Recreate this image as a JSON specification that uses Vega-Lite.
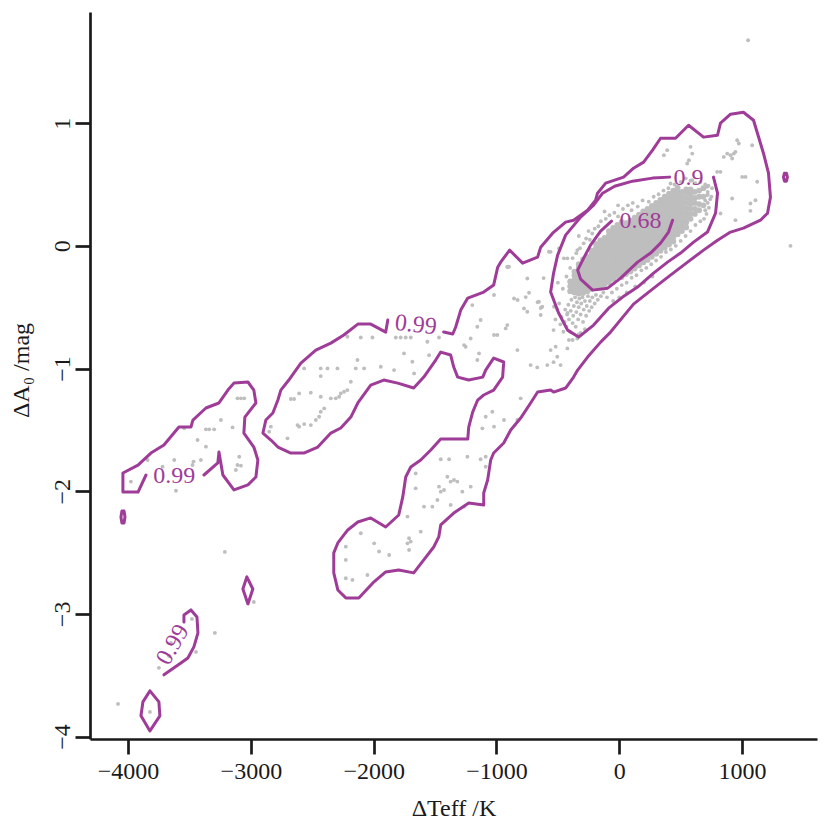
{
"$schema":"https://vega.github.io/schema/vega-lite/v6.json",
"autosize":"none",
"width":727,"height":727,
"padding":{"left":90,"top":12,"right":13,"bottom":91},
"background":"white",
"config":{"font":"Liberation Serif","view":{"stroke":null},
"axis":{"grid":false,"domainColor":"#1a1a1a","domainWidth":2.7,"tickColor":"#1a1a1a","tickWidth":2.7,"tickSize":15,"labelFont":"Liberation Serif","labelFontSize":24,"labelColor":"#1a1a1a","titleFont":"Liberation Serif","titleFontSize":24,"titleFontWeight":"normal","titleColor":"#1a1a1a","labelFlush":false,"labelOverlap":false}},
"datasets":{
"cont":[
{"g":"a","i":1,"x":-1430,"y":-0.703},{"g":"a","i":2,"x":-1356,"y":-0.719},{"g":"a","i":3,"x":-1332,"y":-0.662},{"g":"a","i":4,"x":-1291,"y":-0.524},{"g":"a","i":5,"x":-1234,"y":-0.426},{"g":"a","i":6,"x":-1104,"y":-0.377},{"g":"a","i":7,"x":-1023,"y":-0.320},{"g":"a","i":8,"x":-990,"y":-0.174},{"g":"a","i":9,"x":-966,"y":-0.133},{"g":"a","i":10,"x":-893,"y":-0.035},
{"g":"a","i":11,"x":-787,"y":-0.141},{"g":"a","i":12,"x":-665,"y":-0.092},{"g":"a","i":13,"x":-640,"y":-0.011},{"g":"a","i":14,"x":-543,"y":0.103},{"g":"a","i":15,"x":-437,"y":0.193},{"g":"a","i":16,"x":-372,"y":0.209},{"g":"a","i":17,"x":-258,"y":0.291},{"g":"a","i":18,"x":-193,"y":0.372},{"g":"a","i":19,"x":-177,"y":0.429},{"g":"a","i":20,"x":-111,"y":0.511},
{"g":"a","i":21,"x":35,"y":0.560},{"g":"a","i":22,"x":116,"y":0.633},{"g":"a","i":23,"x":198,"y":0.682},{"g":"a","i":24,"x":271,"y":0.780},{"g":"a","i":25,"x":336,"y":0.877},{"g":"a","i":26,"x":458,"y":0.877},{"g":"a","i":27,"x":564,"y":0.983},{"g":"a","i":28,"x":686,"y":0.886},{"g":"a","i":29,"x":800,"y":0.902},{"g":"a","i":30,"x":824,"y":1.000},
{"g":"a","i":31,"x":906,"y":1.073},{"g":"a","i":32,"x":1011,"y":1.089},{"g":"a","i":33,"x":1093,"y":1.024},{"g":"a","i":34,"x":1125,"y":0.918},{"g":"a","i":35,"x":1174,"y":0.755},{"g":"a","i":36,"x":1215,"y":0.592},{"g":"a","i":37,"x":1231,"y":0.397},{"g":"a","i":38,"x":1207,"y":0.266},{"g":"a","i":39,"x":1150,"y":0.209},{"g":"a","i":40,"x":1011,"y":0.144},
{"g":"a","i":41,"x":906,"y":0.112},{"g":"a","i":42,"x":800,"y":0.046},{"g":"a","i":43,"x":686,"y":-0.035},{"g":"a","i":44,"x":556,"y":-0.133},{"g":"a","i":45,"x":417,"y":-0.239},{"g":"a","i":46,"x":312,"y":-0.320},{"g":"a","i":47,"x":198,"y":-0.410},{"g":"a","i":48,"x":116,"y":-0.475},{"g":"a","i":49,"x":35,"y":-0.573},{"g":"a","i":50,"x":-71,"y":-0.703},
{"g":"a","i":51,"x":-152,"y":-0.785},{"g":"a","i":52,"x":-258,"y":-0.907},{"g":"a","i":53,"x":-339,"y":-1.013},{"g":"a","i":54,"x":-372,"y":-1.070},{"g":"a","i":55,"x":-437,"y":-1.159},{"g":"a","i":56,"x":-535,"y":-1.192},{"g":"a","i":57,"x":-559,"y":-1.176},{"g":"a","i":58,"x":-665,"y":-1.192},{"g":"a","i":59,"x":-722,"y":-1.281},{"g":"a","i":60,"x":-803,"y":-1.404},
{"g":"a","i":61,"x":-884,"y":-1.501},{"g":"a","i":62,"x":-941,"y":-1.607},{"g":"a","i":63,"x":-1023,"y":-1.689},{"g":"a","i":64,"x":-1047,"y":-1.746},{"g":"a","i":65,"x":-1072,"y":-1.909},{"g":"a","i":66,"x":-1104,"y":-2.015},{"g":"a","i":67,"x":-1104,"y":-2.112},{"g":"a","i":68,"x":-1226,"y":-2.096},{"g":"a","i":69,"x":-1348,"y":-2.178},{"g":"a","i":70,"x":-1454,"y":-2.275},
{"g":"a","i":71,"x":-1470,"y":-2.373},{"g":"a","i":72,"x":-1511,"y":-2.455},{"g":"a","i":73,"x":-1592,"y":-2.560},{"g":"a","i":74,"x":-1674,"y":-2.666},{"g":"a","i":75,"x":-1796,"y":-2.642},{"g":"a","i":76,"x":-1902,"y":-2.658},{"g":"a","i":77,"x":-2007,"y":-2.748},{"g":"a","i":78,"x":-2121,"y":-2.870},{"g":"a","i":79,"x":-2227,"y":-2.870},{"g":"a","i":80,"x":-2292,"y":-2.805},
{"g":"a","i":81,"x":-2325,"y":-2.666},{"g":"a","i":82,"x":-2325,"y":-2.503},{"g":"a","i":83,"x":-2292,"y":-2.422},{"g":"a","i":84,"x":-2211,"y":-2.316},{"g":"a","i":85,"x":-2129,"y":-2.251},{"g":"a","i":86,"x":-2024,"y":-2.218},{"g":"a","i":87,"x":-1902,"y":-2.292},{"g":"a","i":88,"x":-1796,"y":-2.194},{"g":"a","i":89,"x":-1763,"y":-2.047},{"g":"a","i":90,"x":-1739,"y":-1.884},
{"g":"a","i":91,"x":-1698,"y":-1.803},{"g":"a","i":92,"x":-1617,"y":-1.746},{"g":"a","i":93,"x":-1535,"y":-1.664},{"g":"a","i":94,"x":-1454,"y":-1.575},{"g":"a","i":95,"x":-1234,"y":-1.575},{"g":"a","i":96,"x":-1226,"y":-1.477},{"g":"a","i":97,"x":-1194,"y":-1.355},{"g":"a","i":98,"x":-1153,"y":-1.257},{"g":"a","i":99,"x":-1104,"y":-1.216},{"g":"a","i":100,"x":-1023,"y":-1.176},
{"g":"a","i":101,"x":-950,"y":-1.070},{"g":"a","i":102,"x":-941,"y":-0.947},{"g":"a","i":103,"x":-1023,"y":-0.915},{"g":"a","i":104,"x":-1088,"y":-1.013},{"g":"a","i":105,"x":-1112,"y":-1.070},{"g":"a","i":106,"x":-1226,"y":-1.094},{"g":"a","i":107,"x":-1316,"y":-1.070},{"g":"a","i":108,"x":-1348,"y":-0.988},{"g":"a","i":109,"x":-1373,"y":-0.890},{"g":"a","i":110,"x":-1454,"y":-0.866},
{"g":"a","i":111,"x":-1495,"y":-0.931},{"g":"a","i":112,"x":-1592,"y":-1.070},{"g":"a","i":113,"x":-1674,"y":-1.159},{"g":"a","i":114,"x":-1804,"y":-1.119},{"g":"a","i":115,"x":-1918,"y":-1.094},{"g":"a","i":116,"x":-2024,"y":-1.135},{"g":"a","i":117,"x":-2129,"y":-1.281},{"g":"a","i":118,"x":-2186,"y":-1.396},{"g":"a","i":119,"x":-2268,"y":-1.485},{"g":"a","i":120,"x":-2349,"y":-1.526},
{"g":"a","i":121,"x":-2455,"y":-1.640},{"g":"a","i":122,"x":-2569,"y":-1.689},{"g":"a","i":123,"x":-2675,"y":-1.689},{"g":"a","i":124,"x":-2780,"y":-1.640},{"g":"a","i":125,"x":-2837,"y":-1.583},{"g":"a","i":126,"x":-2902,"y":-1.526},{"g":"a","i":127,"x":-2878,"y":-1.420},{"g":"a","i":128,"x":-2821,"y":-1.363},{"g":"a","i":129,"x":-2780,"y":-1.257},{"g":"a","i":130,"x":-2756,"y":-1.176},
{"g":"a","i":131,"x":-2691,"y":-1.094},{"g":"a","i":132,"x":-2593,"y":-0.956},{"g":"a","i":133,"x":-2471,"y":-0.850},{"g":"a","i":134,"x":-2349,"y":-0.793},{"g":"a","i":135,"x":-2243,"y":-0.727},{"g":"a","i":136,"x":-2129,"y":-0.638},{"g":"a","i":137,"x":-2024,"y":-0.638},{"g":"a","i":138,"x":-1902,"y":-0.703},{"g":"a","i":139,"x":-1885,"y":-0.605},
{"g":"b","i":1,"x":767,"y":0.560},{"g":"b","i":2,"x":800,"y":0.429},{"g":"b","i":3,"x":784,"y":0.266},{"g":"b","i":4,"x":718,"y":0.112},{"g":"b","i":5,"x":605,"y":0.030},{"g":"b","i":6,"x":499,"y":-0.059},{"g":"b","i":7,"x":393,"y":-0.133},{"g":"b","i":8,"x":279,"y":-0.222},{"g":"b","i":9,"x":149,"y":-0.336},{"g":"b","i":10,"x":27,"y":-0.418},{"g":"b","i":11,"x":-87,"y":-0.508},{"g":"b","i":12,"x":-209,"y":-0.646},{"g":"b","i":13,"x":-331,"y":-0.744},{"g":"b","i":14,"x":-421,"y":-0.687},{"g":"b","i":15,"x":-494,"y":-0.548},{"g":"b","i":16,"x":-559,"y":-0.377},{"g":"b","i":17,"x":-535,"y":-0.222},{"g":"b","i":18,"x":-502,"y":-0.076},{"g":"b","i":19,"x":-437,"y":0.087},{"g":"b","i":20,"x":-315,"y":0.234},{"g":"b","i":21,"x":-209,"y":0.332},{"g":"b","i":22,"x":-136,"y":0.429},{"g":"b","i":23,"x":-38,"y":0.486},{"g":"b","i":24,"x":108,"y":0.527},{"g":"b","i":25,"x":271,"y":0.552},{"g":"b","i":26,"x":409,"y":0.560},
{"g":"c","i":1,"x":-63,"y":0.201},{"g":"c","i":2,"x":-152,"y":0.120},{"g":"c","i":3,"x":-234,"y":0.006},{"g":"c","i":4,"x":-290,"y":-0.100},{"g":"c","i":5,"x":-339,"y":-0.198},{"g":"c","i":6,"x":-315,"y":-0.271},{"g":"c","i":7,"x":-217,"y":-0.361},{"g":"c","i":8,"x":-95,"y":-0.345},{"g":"c","i":9,"x":11,"y":-0.263},{"g":"c","i":10,"x":149,"y":-0.133},{"g":"c","i":11,"x":255,"y":-0.059},{"g":"c","i":12,"x":336,"y":0.022},{"g":"c","i":13,"x":401,"y":0.112},{"g":"c","i":14,"x":434,"y":0.209},
{"g":"d","i":1,"x":-3382,"y":-1.868},{"g":"d","i":2,"x":-3269,"y":-1.770},{"g":"d","i":3,"x":-3260,"y":-1.681},{"g":"d","i":4,"x":-3228,"y":-1.868},{"g":"d","i":5,"x":-3138,"y":-1.990},{"g":"d","i":6,"x":-3024,"y":-1.949},{"g":"d","i":7,"x":-2959,"y":-1.884},{"g":"d","i":8,"x":-2943,"y":-1.746},{"g":"d","i":9,"x":-2976,"y":-1.640},{"g":"d","i":10,"x":-3057,"y":-1.526},{"g":"d","i":11,"x":-3049,"y":-1.396},{"g":"d","i":12,"x":-2959,"y":-1.281},{"g":"d","i":13,"x":-2976,"y":-1.176},{"g":"d","i":14,"x":-3024,"y":-1.110},{"g":"d","i":15,"x":-3138,"y":-1.119},{"g":"d","i":16,"x":-3187,"y":-1.176},{"g":"d","i":17,"x":-3260,"y":-1.281},{"g":"d","i":18,"x":-3366,"y":-1.322},{"g":"d","i":19,"x":-3472,"y":-1.420},{"g":"d","i":20,"x":-3488,"y":-1.477},{"g":"d","i":21,"x":-3586,"y":-1.477},{"g":"d","i":22,"x":-3708,"y":-1.624},{"g":"d","i":23,"x":-3814,"y":-1.689},{"g":"d","i":24,"x":-3919,"y":-1.787},{"g":"d","i":25,"x":-4042,"y":-1.852},{"g":"d","i":26,"x":-4042,"y":-2.007},{"g":"d","i":27,"x":-3919,"y":-2.007},{"g":"d","i":28,"x":-3854,"y":-1.868},
{"g":"e","i":1,"x":-4050,"y":-2.161},{"g":"e","i":2,"x":-4033,"y":-2.161},{"g":"e","i":3,"x":-4025,"y":-2.210},{"g":"e","i":4,"x":-4033,"y":-2.259},{"g":"e","i":5,"x":-4050,"y":-2.259},{"g":"e","i":6,"x":-4058,"y":-2.210},{"g":"e","i":7,"x":-4050,"y":-2.161},
{"g":"f","i":1,"x":-3033,"y":-2.699},{"g":"f","i":2,"x":-2984,"y":-2.797},{"g":"f","i":3,"x":-3024,"y":-2.919},{"g":"f","i":4,"x":-3065,"y":-2.797},{"g":"f","i":5,"x":-3033,"y":-2.699},
{"g":"h","i":1,"x":-3708,"y":-3.497},{"g":"h","i":2,"x":-3570,"y":-3.400},{"g":"h","i":3,"x":-3513,"y":-3.359},{"g":"h","i":4,"x":-3464,"y":-3.269},{"g":"h","i":5,"x":-3431,"y":-3.155},{"g":"h","i":6,"x":-3439,"y":-3.025},{"g":"h","i":7,"x":-3488,"y":-2.968},{"g":"h","i":8,"x":-3545,"y":-3.009},{"g":"h","i":9,"x":-3545,"y":-3.066},
{"g":"k","i":1,"x":-3822,"y":-3.628},{"g":"k","i":2,"x":-3749,"y":-3.717},{"g":"k","i":3,"x":-3741,"y":-3.831},{"g":"k","i":4,"x":-3822,"y":-3.954},{"g":"k","i":5,"x":-3895,"y":-3.831},{"g":"k","i":6,"x":-3879,"y":-3.717},{"g":"k","i":7,"x":-3822,"y":-3.628},
{"g":"m","i":1,"x":1345,"y":0.592},{"g":"m","i":2,"x":1361,"y":0.592},{"g":"m","i":3,"x":1369,"y":0.560},{"g":"m","i":4,"x":1361,"y":0.527},{"g":"m","i":5,"x":1345,"y":0.527},{"g":"m","i":6,"x":1337,"y":0.560},{"g":"m","i":7,"x":1345,"y":0.592}
],
"lab":[
{"t":"0.9","k":"flat","x":564,"y":0.552},
{"t":"0.68","k":"flat","x":173,"y":0.201},
{"t":"0.99","k":"flat","x":-3623,"y":-1.877},
{"t":"0.99","k":"tilt","x":-1657,"y":-0.646},
{"t":"0.99","k":"steep","x":-3635,"y":-3.253}
],
"pts":[
{"x":-2214,"y":-0.741},{"x":-2105,"y":-0.747},{"x":-2010,"y":-0.747},{"x":-1820,"y":-0.747},{"x":-1780,"y":-0.747},{"x":-1739,"y":-0.747},{"x":-1698,"y":-0.747},{"x":-1563,"y":-0.782},{"x":-1468,"y":-0.747},{"x":-1264,"y":-0.809},{"x":-1251,"y":-0.823},{"x":-1210,"y":-0.755},{"x":-1156,"y":-0.660},{"x":-1129,"y":-0.605},{"x":-1197,"y":-0.483},{"x":-1142,"y":-0.877},{"x":-1156,"y":-0.931},{"x":-1753,"y":-0.877},{"x":-1685,"y":-0.945},{"x":-1549,"y":-0.891},{"x":-1671,"y":-1.040},{"x":-2132,"y":-0.931},{"x":-1834,"y":-1.013},{"x":-1942,"y":-0.986},{"x":-2078,"y":-0.999},{"x":-2146,"y":-0.999},{"x":-2295,"y":-0.999},{"x":-2376,"y":-0.999},{"x":-2431,"y":-0.999},{"x":-2566,"y":-0.999},{"x":-2431,"y":-1.062},{"x":-2186,"y":-1.108},{"x":-2214,"y":-1.176},{"x":-2241,"y":-1.189},{"x":-2268,"y":-1.203},{"x":-2281,"y":-1.230},{"x":-2309,"y":-1.243},{"x":-2349,"y":-1.243},{"x":-2431,"y":-1.230},{"x":-2512,"y":-1.197},{"x":-2607,"y":-1.203},{"x":-2648,"y":-1.249},{"x":-2675,"y":-1.249},{"x":-2403,"y":-1.325},{"x":-2431,"y":-1.352},{"x":-2444,"y":-1.393},{"x":-2471,"y":-1.420},{"x":-2512,"y":-1.461},{"x":-2566,"y":-1.453},{"x":-2607,"y":-1.474},{"x":-2620,"y":-1.461},{"x":-2702,"y":-1.569},{"x":-2837,"y":-1.474},{"x":-2851,"y":-1.515},{"x":-3109,"y":-1.243},{"x":-3081,"y":-1.243},{"x":-3054,"y":-1.243},{"x":-3244,"y":-1.420},{"x":-3149,"y":-1.480},{"x":-3366,"y":-1.496},{"x":-3339,"y":-1.496},{"x":-3299,"y":-1.496},{"x":-3434,"y":-1.583},{"x":-3366,"y":-1.637},{"x":-3543,"y":-1.488},{"x":-3095,"y":-1.719},{"x":-3109,"y":-1.787},{"x":-3081,"y":-1.792},{"x":-3122,"y":-1.827},{"x":-3407,"y":-1.746},{"x":-3467,"y":-1.759},{"x":-3475,"y":-1.787},{"x":-3624,"y":-1.746},{"x":-3719,"y":-1.800},{"x":-3841,"y":-1.746},{"x":-3977,"y":-1.922},{"x":-3610,"y":-1.996},{"x":-1658,"y":-1.855},{"x":-1454,"y":-1.740},{"x":-1386,"y":-1.740},{"x":-1237,"y":-1.719},{"x":-1129,"y":-1.740},{"x":-1088,"y":-1.800},{"x":-1400,"y":-1.882},{"x":-1373,"y":-1.922},{"x":-1346,"y":-1.909},{"x":-1319,"y":-1.922},{"x":-1468,"y":-1.963},{"x":-1454,"y":-2.004},{"x":-1427,"y":-1.990},{"x":-1278,"y":-2.004},{"x":-1210,"y":-1.963},{"x":-1088,"y":-1.719},{"x":-1088,"y":-1.393},{"x":-1115,"y":-1.488},{"x":-1264,"y":-2.126},{"x":-1373,"y":-2.112},{"x":-1522,"y":-2.126},{"x":-1590,"y":-2.126},{"x":-1658,"y":-1.977},{"x":-1481,"y":-2.072},{"x":-1725,"y":-2.207},
{"x":-559,"y":-0.049},{"x":-749,"y":-0.266},{"x":-898,"y":-0.171},{"x":-857,"y":-0.429},{"x":-735,"y":-0.382},{"x":-1020,"y":-0.401},{"x":-776,"y":-0.510},{"x":-749,"y":-0.537},{"x":-654,"y":-0.456},{"x":-627,"y":-0.497},{"x":-640,"y":-0.564},{"x":-532,"y":-0.497},{"x":-1020,"y":-0.727},{"x":-993,"y":-0.727},{"x":-912,"y":-0.646},{"x":-925,"y":-0.673},{"x":-830,"y":-0.850},{"x":-722,"y":-0.972},{"x":-668,"y":-0.991},{"x":-586,"y":-0.972},{"x":-559,"y":-0.850},{"x":-518,"y":-0.822},{"x":-505,"y":-0.904},{"x":-478,"y":-0.972},{"x":-423,"y":-0.836},{"x":-410,"y":-0.768},{"x":-342,"y":-0.755},{"x":-803,"y":-1.243},{"x":-939,"y":-1.420},{"x":-1020,"y":-1.474},{"x":-830,"y":-1.420},{"x":-1034,"y":-1.352},{"x":-1617,"y":-2.330},{"x":-1712,"y":-2.384},{"x":-1698,"y":-2.411},{"x":-1725,"y":-2.425},{"x":-1712,"y":-2.479},{"x":-1956,"y":-2.492},{"x":-2105,"y":-2.343},{"x":-2227,"y":-2.452},{"x":-2227,"y":-2.560},{"x":-2173,"y":-2.723},{"x":-2227,"y":-2.710},{"x":-2051,"y":-2.683},{"x":-1996,"y":-2.425},{"x":-1874,"y":-2.520},
{"x":1049,"y":1.676},{"x":390,"y":0.780},{"x":363,"y":0.739},{"x":580,"y":0.807},{"x":594,"y":0.752},{"x":567,"y":0.698},{"x":553,"y":0.671},{"x":851,"y":0.725},{"x":879,"y":0.752},{"x":906,"y":0.739},{"x":919,"y":0.712},{"x":933,"y":0.752},{"x":946,"y":0.766},{"x":960,"y":0.861},{"x":973,"y":0.834},{"x":1082,"y":0.820},{"x":797,"y":0.603},{"x":824,"y":0.603},{"x":1001,"y":0.562},{"x":1028,"y":0.562},{"x":1123,"y":0.522},{"x":919,"y":0.386},{"x":1068,"y":0.345},{"x":1109,"y":0.372},{"x":1068,"y":0.285},{"x":946,"y":0.209},{"x":824,"y":0.264},{"x":1394,"y":0.000},{"x":716,"y":0.413},{"x":716,"y":0.481},{"x":594,"y":0.535},{"x":417,"y":0.508},{"x":-573,"y":-0.048},{"x":-491,"y":-0.021},{"x":-342,"y":-0.035},{"x":-451,"y":-0.102},{"x":-423,"y":-0.102},{"x":-912,"y":-0.171},
{"x":-909,"y":-0.174},{"x":-828,"y":-0.442},{"x":-762,"y":-0.418},{"x":-665,"y":-0.459},{"x":-640,"y":-0.507},{"x":-616,"y":-0.263},{"x":-421,"y":-0.548},{"x":-380,"y":-0.768},{"x":-315,"y":-0.711},{"x":-535,"y":-0.687},{"x":-535,"y":-0.948},
{"x":-3212,"y":-2.495},{"x":-2976,"y":-2.903},{"x":-3480,"y":-3.041},{"x":-3293,"y":-3.155},{"x":-3651,"y":-3.237},{"x":-3667,"y":-3.343},{"x":-3447,"y":-3.310},{"x":-3749,"y":-3.440},{"x":-4082,"y":-3.734},{"x":-3822,"y":-3.799},
{"x":-480,"y":-0.64},{"x":-470,"y":-0.58},{"x":-455,"y":-0.70},{"x":-445,"y":-0.62},{"x":-440,"y":-0.52},{"x":-430,"y":-0.66},{"x":-425,"y":-0.56},{"x":-415,"y":-0.48},{"x":-410,"y":-0.60},{"x":-400,"y":-0.70},{"x":-395,"y":-0.53},{"x":-390,"y":-0.44},{"x":-380,"y":-0.63},{"x":-375,"y":-0.57},{"x":-370,"y":-0.49},{"x":-360,"y":-0.42},{"x":-355,"y":-0.66},{"x":-350,"y":-0.54},{"x":-345,"y":-0.46},{"x":-335,"y":-0.60},{"x":-330,"y":-0.50},{"x":-325,"y":-0.43},{"x":-315,"y":-0.56},{"x":-310,"y":-0.47},{"x":-300,"y":-0.42},{"x":-295,"y":-0.62},{"x":-290,"y":-0.52},{"x":-280,"y":-0.45},{"x":-270,"y":-0.57},{"x":-265,"y":-0.49},{"x":-255,"y":-0.41},{"x":-245,"y":-0.53},{"x":-240,"y":-0.45},{"x":-225,"y":-0.50},{"x":-220,"y":-0.42},{"x":-200,"y":-0.47},{"x":-190,"y":-0.40},{"x":-175,"y":-0.44},{"x":-150,"y":-0.41},{"x":-130,"y":-0.38},{"x":-520,"y":-0.60},{"x":-505,"y":-0.52},{"x":-490,"y":-0.47},{"x":-330,"y":-0.72},{"x":-280,"y":-0.68},
{"x":-500,"y":-0.30},{"x":-460,"y":-0.35},{"x":-430,"y":-0.25},{"x":-400,"y":-0.18},{"x":-380,"y":-0.10},{"x":-350,"y":-0.06},{"x":-320,"y":-0.02},{"x":-290,"y":0.02},{"x":-270,"y":0.06},{"x":-240,"y":0.05},{"x":-220,"y":0.10},{"x":-200,"y":0.14},{"x":-170,"y":0.16},{"x":-150,"y":0.20},{"x":-110,"y":0.22},{"x":-80,"y":0.25},{"x":-40,"y":0.27},{"x":-10,"y":0.24},{"x":30,"y":0.30},{"x":70,"y":0.33},{"x":110,"y":0.35},{"x":100,"y":0.29},{"x":150,"y":0.32},{"x":190,"y":0.37},{"x":240,"y":0.36},{"x":280,"y":0.40},{"x":320,"y":0.42},{"x":360,"y":0.45},{"x":400,"y":0.47},{"x":450,"y":0.50},{"x":500,"y":0.52},{"x":540,"y":0.55},{"x":580,"y":0.53},{"x":620,"y":0.51},{"x":660,"y":0.52},{"x":700,"y":0.50},{"x":720,"y":0.44},{"x":740,"y":0.38},{"x":730,"y":0.31},{"x":710,"y":0.26},{"x":690,"y":0.22},{"x":660,"y":0.20},{"x":620,"y":0.17},{"x":580,"y":0.12},{"x":540,"y":0.08},{"x":500,"y":0.04},{"x":460,"y":0.0},{"x":420,"y":-0.03},{"x":380,"y":-0.05},{"x":340,"y":-0.09},{"x":300,"y":-0.12},{"x":260,"y":-0.15},{"x":220,"y":-0.18},{"x":180,"y":-0.20},{"x":140,"y":-0.24},{"x":100,"y":-0.26},{"x":60,"y":-0.30},{"x":20,"y":-0.32},{"x":-20,"y":-0.35},{"x":-60,"y":-0.38},{"x":-100,"y":-0.42},{"x":-50,"y":-0.45},{"x":0,"y":-0.42},{"x":60,"y":-0.38},{"x":130,"y":-0.33},{"x":200,"y":-0.30},{"x":270,"y":-0.25},{"x":-10,"y":0.33},{"x":-120,"y":0.28},{"x":-250,"y":0.12},{"x":-330,"y":0.08},
{"x":720,"y":0.35},{"x":720,"y":0.42},{"x":725,"y":0.49},{"x":750,"y":0.40},{"x":755,"y":0.47},{"x":700,"y":0.29},{"x":700,"y":0.37}
],
"core":[
{"x":-400,"y":-0.37},{"x":-400,"y":-0.33},{"x":-400,"y":-0.29},
{"x":-365,"y":-0.38},{"x":-365,"y":-0.345},{"x":-365,"y":-0.31},{"x":-365,"y":-0.275},{"x":-365,"y":-0.24},{"x":-365,"y":-0.21},
{"x":-330,"y":-0.39},{"x":-330,"y":-0.355},{"x":-330,"y":-0.32},{"x":-330,"y":-0.285},{"x":-330,"y":-0.25},{"x":-330,"y":-0.215},{"x":-330,"y":-0.18},{"x":-330,"y":-0.15},
{"x":-295,"y":-0.385},{"x":-295,"y":-0.35},{"x":-295,"y":-0.315},{"x":-295,"y":-0.28},{"x":-295,"y":-0.245},{"x":-295,"y":-0.21},{"x":-295,"y":-0.175},{"x":-295,"y":-0.14},{"x":-295,"y":-0.11},
{"x":-260,"y":-0.37},{"x":-260,"y":-0.335},{"x":-260,"y":-0.30},{"x":-260,"y":-0.265},{"x":-260,"y":-0.23},{"x":-260,"y":-0.195},{"x":-260,"y":-0.16},{"x":-260,"y":-0.125},{"x":-260,"y":-0.09},
{"x":-225,"y":-0.35},{"x":-225,"y":-0.315},{"x":-225,"y":-0.28},{"x":-225,"y":-0.245},{"x":-225,"y":-0.21},{"x":-225,"y":-0.175},{"x":-225,"y":-0.14},{"x":-225,"y":-0.105},{"x":-225,"y":-0.07},{"x":-225,"y":-0.04},
{"x":-190,"y":-0.33},{"x":-190,"y":-0.295},{"x":-190,"y":-0.26},{"x":-190,"y":-0.225},{"x":-190,"y":-0.19},{"x":-190,"y":-0.155},{"x":-190,"y":-0.12},{"x":-190,"y":-0.085},{"x":-190,"y":-0.05},{"x":-190,"y":-0.02},{"x":-190,"y":0.015},
{"x":-155,"y":-0.34},{"x":-155,"y":-0.305},{"x":-155,"y":-0.27},{"x":-155,"y":-0.235},{"x":-155,"y":-0.2},{"x":-155,"y":-0.165},{"x":-155,"y":-0.13},{"x":-155,"y":-0.095},{"x":-155,"y":-0.06},{"x":-155,"y":-0.025},{"x":-155,"y":0.01},{"x":-155,"y":0.045},
{"x":-120,"y":-0.315},{"x":-120,"y":-0.28},{"x":-120,"y":-0.245},{"x":-120,"y":-0.21},{"x":-120,"y":-0.175},{"x":-120,"y":-0.14},{"x":-120,"y":-0.105},{"x":-120,"y":-0.07},{"x":-120,"y":-0.035},{"x":-120,"y":0},{"x":-120,"y":0.03},{"x":-120,"y":0.065},
{"x":-85,"y":-0.295},{"x":-85,"y":-0.26},{"x":-85,"y":-0.225},{"x":-85,"y":-0.19},{"x":-85,"y":-0.155},{"x":-85,"y":-0.12},{"x":-85,"y":-0.085},{"x":-85,"y":-0.05},{"x":-85,"y":-0.015},{"x":-85,"y":0.02},{"x":-85,"y":0.05},{"x":-85,"y":0.085},{"x":-85,"y":0.12},
{"x":-50,"y":-0.27},{"x":-50,"y":-0.235},{"x":-50,"y":-0.2},{"x":-50,"y":-0.165},{"x":-50,"y":-0.13},{"x":-50,"y":-0.095},{"x":-50,"y":-0.06},{"x":-50,"y":-0.025},{"x":-50,"y":0.01},{"x":-50,"y":0.045},{"x":-50,"y":0.075},{"x":-50,"y":0.11},{"x":-50,"y":0.145},
{"x":-15,"y":-0.245},{"x":-15,"y":-0.21},{"x":-15,"y":-0.175},{"x":-15,"y":-0.14},{"x":-15,"y":-0.105},{"x":-15,"y":-0.07},{"x":-15,"y":-0.035},{"x":-15,"y":0},{"x":-15,"y":0.035},{"x":-15,"y":0.07},{"x":-15,"y":0.1},{"x":-15,"y":0.135},{"x":-15,"y":0.17},
{"x":20,"y":-0.255},{"x":20,"y":-0.22},{"x":20,"y":-0.185},{"x":20,"y":-0.15},{"x":20,"y":-0.115},{"x":20,"y":-0.08},{"x":20,"y":-0.045},{"x":20,"y":-0.01},{"x":20,"y":0.025},{"x":20,"y":0.06},{"x":20,"y":0.095},{"x":20,"y":0.125},{"x":20,"y":0.16},{"x":20,"y":0.195},
{"x":55,"y":-0.23},{"x":55,"y":-0.195},{"x":55,"y":-0.16},{"x":55,"y":-0.125},{"x":55,"y":-0.09},{"x":55,"y":-0.055},{"x":55,"y":-0.02},{"x":55,"y":0.015},{"x":55,"y":0.05},{"x":55,"y":0.085},{"x":55,"y":0.12},{"x":55,"y":0.15},{"x":55,"y":0.185},
{"x":90,"y":-0.21},{"x":90,"y":-0.175},{"x":90,"y":-0.14},{"x":90,"y":-0.105},{"x":90,"y":-0.07},{"x":90,"y":-0.035},{"x":90,"y":0},{"x":90,"y":0.035},{"x":90,"y":0.07},{"x":90,"y":0.105},{"x":90,"y":0.14},{"x":90,"y":0.17},{"x":90,"y":0.205},
{"x":125,"y":-0.185},{"x":125,"y":-0.15},{"x":125,"y":-0.115},{"x":125,"y":-0.08},{"x":125,"y":-0.045},{"x":125,"y":-0.01},{"x":125,"y":0.025},{"x":125,"y":0.06},{"x":125,"y":0.095},{"x":125,"y":0.13},{"x":125,"y":0.165},{"x":125,"y":0.195},{"x":125,"y":0.23},
{"x":160,"y":-0.16},{"x":160,"y":-0.125},{"x":160,"y":-0.09},{"x":160,"y":-0.055},{"x":160,"y":-0.02},{"x":160,"y":0.015},{"x":160,"y":0.05},{"x":160,"y":0.085},{"x":160,"y":0.12},{"x":160,"y":0.155},{"x":160,"y":0.19},{"x":160,"y":0.22},{"x":160,"y":0.255},
{"x":195,"y":-0.135},{"x":195,"y":-0.1},{"x":195,"y":-0.065},{"x":195,"y":-0.03},{"x":195,"y":0.005},{"x":195,"y":0.04},{"x":195,"y":0.075},{"x":195,"y":0.11},{"x":195,"y":0.145},{"x":195,"y":0.18},{"x":195,"y":0.215},{"x":195,"y":0.245},{"x":195,"y":0.28},
{"x":230,"y":-0.115},{"x":230,"y":-0.08},{"x":230,"y":-0.045},{"x":230,"y":-0.01},{"x":230,"y":0.025},{"x":230,"y":0.06},{"x":230,"y":0.095},{"x":230,"y":0.13},{"x":230,"y":0.165},{"x":230,"y":0.2},{"x":230,"y":0.235},{"x":230,"y":0.265},{"x":230,"y":0.3},
{"x":265,"y":-0.09},{"x":265,"y":-0.055},{"x":265,"y":-0.02},{"x":265,"y":0.015},{"x":265,"y":0.05},{"x":265,"y":0.085},{"x":265,"y":0.12},{"x":265,"y":0.155},{"x":265,"y":0.19},{"x":265,"y":0.225},{"x":265,"y":0.26},{"x":265,"y":0.29},{"x":265,"y":0.325},
{"x":300,"y":-0.065},{"x":300,"y":-0.03},{"x":300,"y":0.005},{"x":300,"y":0.04},{"x":300,"y":0.075},{"x":300,"y":0.11},{"x":300,"y":0.145},{"x":300,"y":0.18},{"x":300,"y":0.215},{"x":300,"y":0.25},{"x":300,"y":0.285},{"x":300,"y":0.315},{"x":300,"y":0.35},
{"x":335,"y":-0.04},{"x":335,"y":-0.005},{"x":335,"y":0.03},{"x":335,"y":0.065},{"x":335,"y":0.1},{"x":335,"y":0.135},{"x":335,"y":0.17},{"x":335,"y":0.205},{"x":335,"y":0.24},{"x":335,"y":0.275},{"x":335,"y":0.31},{"x":335,"y":0.34},{"x":335,"y":0.375},
{"x":370,"y":-0.015},{"x":370,"y":0.02},{"x":370,"y":0.055},{"x":370,"y":0.09},{"x":370,"y":0.125},{"x":370,"y":0.16},{"x":370,"y":0.195},{"x":370,"y":0.23},{"x":370,"y":0.265},{"x":370,"y":0.3},{"x":370,"y":0.335},{"x":370,"y":0.365},{"x":370,"y":0.4},
{"x":405,"y":0.01},{"x":405,"y":0.045},{"x":405,"y":0.08},{"x":405,"y":0.115},{"x":405,"y":0.15},{"x":405,"y":0.185},{"x":405,"y":0.22},{"x":405,"y":0.255},{"x":405,"y":0.29},{"x":405,"y":0.325},{"x":405,"y":0.36},{"x":405,"y":0.39},{"x":405,"y":0.425},
{"x":440,"y":0.035},{"x":440,"y":0.07},{"x":440,"y":0.105},{"x":440,"y":0.14},{"x":440,"y":0.175},{"x":440,"y":0.21},{"x":440,"y":0.245},{"x":440,"y":0.28},{"x":440,"y":0.315},{"x":440,"y":0.35},{"x":440,"y":0.385},{"x":440,"y":0.41},{"x":440,"y":0.45},
{"x":475,"y":0.095},{"x":475,"y":0.13},{"x":475,"y":0.165},{"x":475,"y":0.2},{"x":475,"y":0.235},{"x":475,"y":0.27},{"x":475,"y":0.305},{"x":475,"y":0.34},{"x":475,"y":0.375},{"x":475,"y":0.41},{"x":475,"y":0.44},{"x":475,"y":0.475},
{"x":510,"y":0.12},{"x":510,"y":0.16},{"x":510,"y":0.2},{"x":510,"y":0.24},{"x":510,"y":0.28},{"x":510,"y":0.32},{"x":510,"y":0.36},{"x":510,"y":0.4},{"x":510,"y":0.44},
{"x":545,"y":0.15},{"x":545,"y":0.19},{"x":545,"y":0.23},{"x":545,"y":0.27},{"x":545,"y":0.31},{"x":545,"y":0.35},{"x":545,"y":0.39},{"x":545,"y":0.43},{"x":545,"y":0.46},
{"x":580,"y":0.22},{"x":580,"y":0.26},{"x":580,"y":0.3},{"x":580,"y":0.34},{"x":580,"y":0.38},{"x":580,"y":0.42},{"x":580,"y":0.46},
{"x":615,"y":0.26},{"x":615,"y":0.3},{"x":615,"y":0.35},{"x":615,"y":0.39},{"x":615,"y":0.44},
{"x":650,"y":0.29},{"x":650,"y":0.34},{"x":650,"y":0.4},{"x":650,"y":0.45},
{"x":685,"y":0.33},{"x":685,"y":0.4},{"x":685,"y":0.47}
]
},
"encoding":{
"x":{"field":"x","type":"quantitative","scale":{"domain":[-4310,1610],"nice":false,"zero":false},
"axis":{"values":[-4000,-3000,-2000,-1000,0,1000],"format":"d","labelBaseline":"top","labelPadding":5,"title":"ΔTeff /K","titleBaseline":"alphabetic","titleY":76}},
"y":{"field":"y","type":"quantitative","scale":{"domain":[-4.02,1.906],"nice":false,"zero":false},
"axis":{"values":[-4,-3,-2,-1,0,1],"format":"d","labelAngle":-90,"labelAlign":"center","labelBaseline":"alphabetic","labelPadding":6,"title":"ΔA₀ /mag","titleBaseline":"alphabetic","titleX":-62,"titleY":358}}
},
"layer":[
{"data":{"name":"pts"},"mark":{"type":"circle","size":15,"color":"#bebebe","opacity":1,"stroke":null}},
{"data":{"name":"core"},"mark":{"type":"circle","size":34,"color":"#bebebe","opacity":1,"stroke":null}},
{"data":{"name":"cont"},"mark":{"type":"line","color":"#9e3c98","strokeWidth":3,"strokeJoin":"round","strokeCap":"round"},
"encoding":{"detail":{"field":"g"},"order":{"field":"i","type":"quantitative"}}},
{"data":{"name":"lab"},"transform":[{"filter":"datum.k==='flat'"}],"mark":{"type":"text","font":"Liberation Serif","fontSize":24,"color":"#9e3c98","align":"center","baseline":"middle"},"encoding":{"text":{"field":"t"}}},
{"data":{"name":"lab"},"transform":[{"filter":"datum.k==='tilt'"}],"mark":{"type":"text","font":"Liberation Serif","fontSize":24,"color":"#9e3c98","align":"center","baseline":"middle","angle":6},"encoding":{"text":{"field":"t"}}},
{"data":{"name":"lab"},"transform":[{"filter":"datum.k==='steep'"}],"mark":{"type":"text","font":"Liberation Serif","fontSize":24,"color":"#9e3c98","align":"center","baseline":"middle","angle":-60},"encoding":{"text":{"field":"t"}}}
]
}
